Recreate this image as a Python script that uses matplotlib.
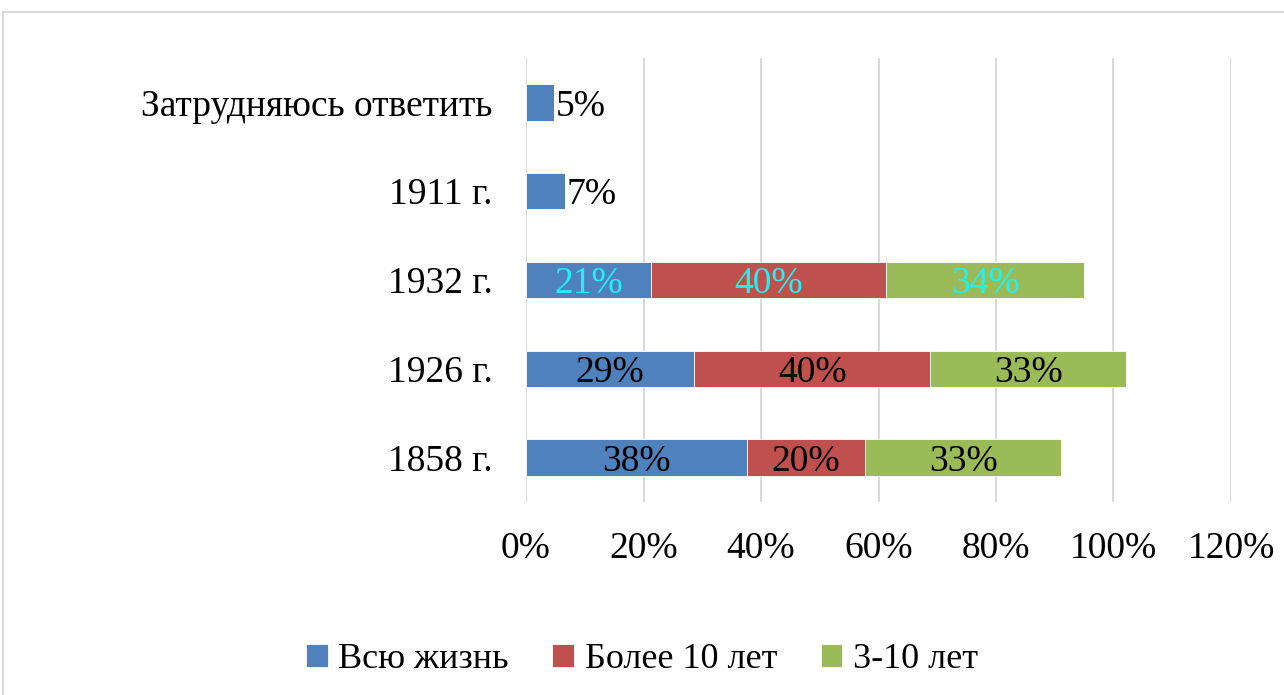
import matplotlib.pyplot as plt
from matplotlib.patches import Rectangle
from matplotlib.ticker import FuncFormatter

# данные (снизу вверх)
categories = ["1858 г.", "1926 г.", "1932 г.", "1911 г.", "Затрудняюсь ответить"]
series_names = ["Всю жизнь", "Более 10 лет", "3-10 лет"]
all_life = [0.376, 0.286, 0.213, 0.066, 0.048]
over_10 = [0.201, 0.402, 0.400, 0.0, 0.0]
from_3_to_10 = [0.334, 0.334, 0.337, 0.0, 0.0]
x_ticks = [0, 0.2, 0.4, 0.6, 0.8, 1.0, 1.2]

colors = ["#4F81BD", "#C0504D", "#9BBB59"]
label_colors = ["black", "black", "#1EF2F2", "black", "black"]

plt.rcParams["font.family"] = ["Liberation Serif", "DejaVu Serif"]

fig = plt.figure(figsize=(12.84, 6.95), dpi=100)
ax = fig.add_axes([0.4097, 0.2777, 0.5490, 0.6388])

# рамка вокруг диаграммы
fig.patches.append(Rectangle((3 / 1284, -0.05), 1.1, 1 - 12 / 695 + 0.05,
                             transform=fig.transFigure, fill=False,
                             edgecolor="#D9D9D9", linewidth=1.5))

y = range(len(categories))
left = [0.0] * len(categories)
for name, vals, col in zip(series_names, [all_life, over_10, from_3_to_10], colors):
    ax.barh(y, vals, left=left, height=0.41, color=col, label=name,
            edgecolor="white", linewidth=0.6)
    for i, v in enumerate(vals):
        if v <= 0:
            continue
        if over_10[i] == 0 and from_3_to_10[i] == 0:
            ax.text(left[i] + v + 0.003, i, f"{v:.0%}", ha="left",
                    va="center_baseline", fontsize=27, color=label_colors[i])
        else:
            ax.text(left[i] + v / 2, i, f"{v:.0%}", ha="center",
                    va="center_baseline", fontsize=27, color=label_colors[i])
    left = [a + b for a, b in zip(left, vals)]

ax.set_xlim(0, 1.2)
ax.set_ylim(-0.5, len(categories) - 0.5)
ax.set_xticks(x_ticks)
ax.xaxis.set_major_formatter(FuncFormatter(lambda v, p: f"{v:.0%}"))
ax.set_yticks(list(y))
ax.set_yticklabels(categories)
ax.tick_params(axis="both", length=0, labelsize=27)
ax.tick_params(axis="x", pad=21)
ax.tick_params(axis="y", pad=24)
ax.grid(axis="x", color="#D9D9D9", linewidth=1.5)
ax.set_axisbelow(True)
for s in ax.spines.values():
    s.set_visible(False)

fig.legend(loc="center", bbox_to_anchor=(0.5, 1 - 660 / 695), ncol=3,
           frameon=False, fontsize=26, handlelength=0.6, handleheight=0.6,
           handletextpad=0.3, columnspacing=1.2)

fig.savefig("out.png", dpi=100)
